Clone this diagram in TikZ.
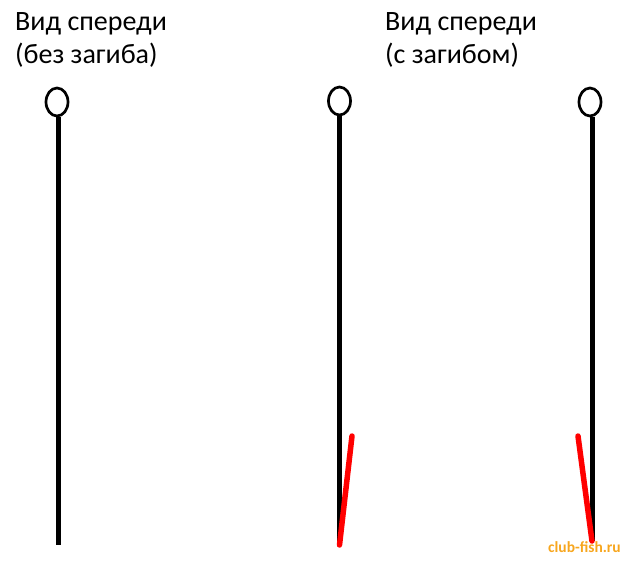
\documentclass[tikz,border=0pt]{standalone}
\usepackage{fontspec}
\setmainfont{Carlito}
\usetikzlibrary{shapes.geometric}

\definecolor{markorange}{RGB}{247,166,30}

\tikzset{
	caption/.style={anchor=base west, inner sep=0pt, align=left,
		font=\fontsize{28}{33}\selectfont},
	eye/.style={draw, ellipse, line width=2.7pt, minimum width=22pt,
		minimum height=28pt, inner sep=0pt},
	shank/.style={line width=5pt},
	redbend/.style={red, line width=5.5pt, line cap=round}
}

\begin{document}
\begin{tikzpicture}[x=1pt,y=-1pt]
	\useasboundingbox (0,0) rectangle (630,563);

	\node[caption] (plaincap) at (15,63) {Вид спереди\\(без загиба)};
	\node[caption] (bentcap) at (385,63) {Вид спереди\\(с загибом)};

	% hook without bend
	\node[eye] (eyeA) at (57,102) {};
	\coordinate (endA) at (58.5,545);
	\draw[shank] (eyeA.south -| endA) -- (endA);

	% hook bent forward
	\node[eye] (eyeB) at (339.5,101) {};
	\coordinate (endB) at (339.5,545);
	\coordinate (tipB) at (352,436);
	\draw[shank] (eyeB.south) -- (endB);
	\draw[redbend] (endB) -- (tipB);

	% hook bent backward
	\node[eye] (eyeC) at (590,102) {};
	\coordinate (endC) at (592,541);
	\coordinate (tipC) at (578,436);
	\draw[shank] (eyeC.south -| endC) -- (endC);
	\draw[redbend] (endC) -- (tipC);

	\node[anchor=base east, inner sep=0pt, text=markorange,
		font=\fontsize{15.5}{15.5}\selectfont\bfseries] (mark) at (621,552) {club-fish.ru};
\end{tikzpicture}
\end{document}
